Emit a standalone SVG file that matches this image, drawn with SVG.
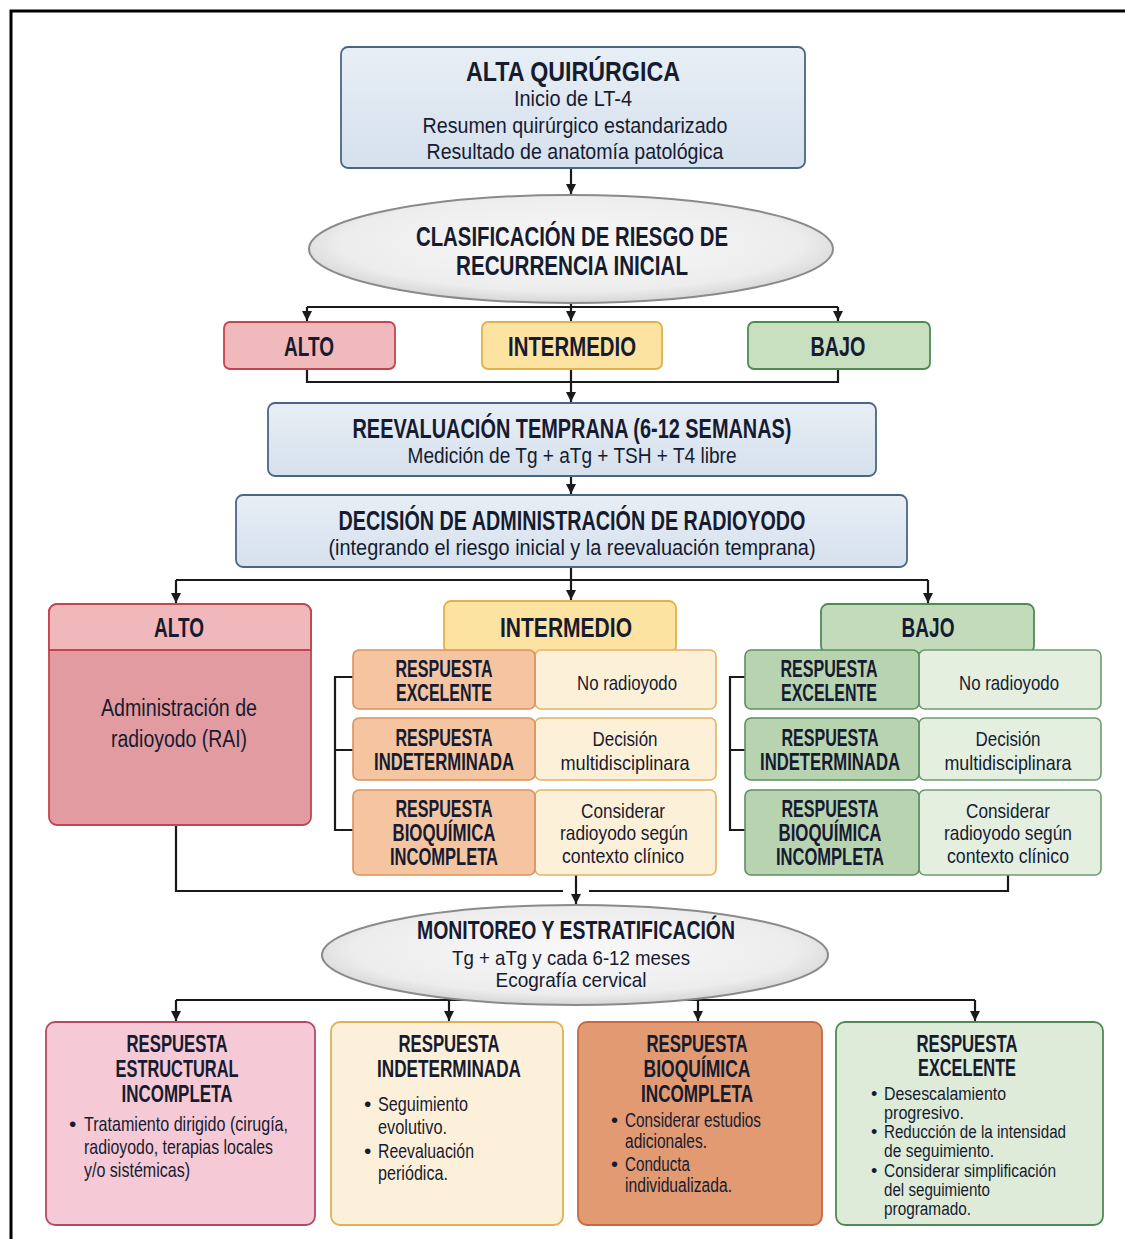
<svg xmlns="http://www.w3.org/2000/svg" width="1125" height="1239" viewBox="0 0 1125 1239">
<defs>
<style>
text{font-family:"Liberation Sans",Arial,sans-serif;fill:#161b30;text-anchor:middle}
.t{font-weight:bold}
.s28{font-size:28px}.s27{font-size:27px}.s25{font-size:25px}.s23{font-size:23px}.s22{font-size:22px}.s21{font-size:21px}.s20{font-size:20px}.s18{font-size:18px}
.l{text-anchor:start}
.c{fill:none;stroke:#1a1a1a;stroke-width:2.2}
.blue{fill:url(#gBlue);stroke:#4a6685;stroke-width:1.8}
.ell{fill:url(#gEll);stroke:#8a8a8a;stroke-width:2}
</style>
<linearGradient id="gBlue" x1="0" y1="0" x2="0" y2="1"><stop offset="0" stop-color="#e8eef5"/><stop offset="1" stop-color="#d5e1ed"/></linearGradient>
<radialGradient id="gEll" cx="0.5" cy="0.45" r="0.55"><stop offset="0" stop-color="#f8f8f8"/><stop offset="0.8" stop-color="#ededed"/><stop offset="1" stop-color="#d6d6d6"/></radialGradient>
<marker id="ah" markerUnits="userSpaceOnUse" markerWidth="11" markerHeight="11" refX="10" refY="5" orient="auto"><path d="M0,0 L10,5 L0,10 z" fill="#1a1a1a"/></marker>
</defs>
<rect width="1125" height="1239" fill="#ffffff"/>
<path d="M11 1239 V11 H1125" fill="none" stroke="#000" stroke-width="3"/>

<g id="connectors">
<path class="c" d="M571 168 V194" marker-end="url(#ah)"/>
<path class="c" d="M571 302 V307 M307 307 H838"/>
<path class="c" d="M307 307 V321" marker-end="url(#ah)"/>
<path class="c" d="M571 307 V321" marker-end="url(#ah)"/>
<path class="c" d="M838 307 V321" marker-end="url(#ah)"/>
<path class="c" d="M307 369 V382 H838 V369"/>
<path class="c" d="M571 369 V402" marker-end="url(#ah)"/>
<path class="c" d="M571 476 V494" marker-end="url(#ah)"/>
<path class="c" d="M571 567 V580 M176 580 H928"/>
<path class="c" d="M176 580 V603" marker-end="url(#ah)"/>
<path class="c" d="M571 580 V600" marker-end="url(#ah)"/>
<path class="c" d="M928 580 V603" marker-end="url(#ah)"/>
<path class="c" d="M353 677 H335 V830 H353 M335 750 H353"/>
<path class="c" d="M745 677 H730 V830 H745 M730 750 H745"/>
<path class="c" d="M176 825 V891 H563 M589 891 H1008 V875"/>
<path class="c" d="M576 875 V904" marker-end="url(#ah)"/>
<path class="c" d="M575 1000 V1005 M176 1000 H975"/>
<path class="c" d="M176 1000 V1021" marker-end="url(#ah)"/>
<path class="c" d="M449 1000 V1021" marker-end="url(#ah)"/>
<path class="c" d="M698 1000 V1021" marker-end="url(#ah)"/>
<path class="c" d="M975 1000 V1021" marker-end="url(#ah)"/>
</g>

<g id="alta-quirurgica">
<rect class="blue" x="341" y="47" width="464" height="121" rx="7"/>
<text class="t s28" x="573" y="81" textLength="214" lengthAdjust="spacingAndGlyphs">ALTA QUIRÚRGICA</text>
<text class="s22" x="573" y="106" textLength="118" lengthAdjust="spacingAndGlyphs">Inicio de LT-4</text>
<text class="s22" x="575" y="133" textLength="305" lengthAdjust="spacingAndGlyphs">Resumen quirúrgico estandarizado</text>
<text class="s22" x="575" y="159" textLength="297" lengthAdjust="spacingAndGlyphs">Resultado de anatomía patológica</text>
</g>

<g id="clasificacion">
<ellipse class="ell" cx="571" cy="249" rx="262" ry="54"/>
<text class="t s27" x="572" y="246" textLength="312" lengthAdjust="spacingAndGlyphs">CLASIFICACIÓN DE RIESGO DE</text>
<text class="t s27" x="572" y="275" textLength="232" lengthAdjust="spacingAndGlyphs">RECURRENCIA INICIAL</text>
</g>

<g id="riesgo-alto">
<rect x="224" y="322" width="171" height="47" rx="6" fill="#f0b9bb" stroke="#c2454f" stroke-width="1.8"/>
<text class="t s27" x="309" y="356" textLength="50" lengthAdjust="spacingAndGlyphs">ALTO</text>
</g>
<g id="riesgo-intermedio">
<rect x="482" y="322" width="180" height="47" rx="6" fill="#fde3a2" stroke="#e2b24a" stroke-width="1.8"/>
<text class="t s27" x="572" y="356" textLength="128" lengthAdjust="spacingAndGlyphs">INTERMEDIO</text>
</g>
<g id="riesgo-bajo">
<rect x="748" y="322" width="182" height="47" rx="6" fill="#c8dfc0" stroke="#4f8a55" stroke-width="1.8"/>
<text class="t s27" x="838" y="356" textLength="55" lengthAdjust="spacingAndGlyphs">BAJO</text>
</g>

<g id="reevaluacion">
<rect class="blue" x="268" y="403" width="608" height="73" rx="7"/>
<text class="t s27" x="572" y="438" textLength="439" lengthAdjust="spacingAndGlyphs">REEVALUACIÓN TEMPRANA (6-12 SEMANAS)</text>
<text class="s22" x="572" y="463" textLength="329" lengthAdjust="spacingAndGlyphs">Medición de Tg + aTg + TSH + T4 libre</text>
</g>

<g id="decision">
<rect class="blue" x="236" y="495" width="671" height="72" rx="7"/>
<text class="t s27" x="572" y="530" textLength="467" lengthAdjust="spacingAndGlyphs">DECISIÓN DE ADMINISTRACIÓN DE RADIOYODO</text>
<text class="s22" x="572" y="555" textLength="487" lengthAdjust="spacingAndGlyphs">(integrando el riesgo inicial y la reevaluación temprana)</text>
</g>

<g id="alto-rai">
<rect x="49" y="604" width="262" height="221" rx="8" fill="#e29ca1" stroke="#c2454f" stroke-width="1.8"/>
<path d="M57 604 H303 A8 8 0 0 1 311 612 V650 H49 V612 A8 8 0 0 1 57 604 Z" fill="#f0b8bb" stroke="#c2454f" stroke-width="1.8"/>
<text class="t s27" x="179" y="637" textLength="50" lengthAdjust="spacingAndGlyphs">ALTO</text>
<text class="s23" x="179" y="716" textLength="156" lengthAdjust="spacingAndGlyphs">Administración de</text>
<text class="s23" x="179" y="747" textLength="136" lengthAdjust="spacingAndGlyphs">radioyodo (RAI)</text>
</g>

<g id="intermedio">
<rect x="444" y="601" width="232" height="52" rx="7" fill="#fde3a2" stroke="#e2b24a" stroke-width="1.8"/>
<text class="t s27" x="566" y="637" textLength="132" lengthAdjust="spacingAndGlyphs">INTERMEDIO</text>
</g>
<g id="int-excelente">
<rect x="535" y="650" width="181" height="59" rx="6" fill="#fdf0d9" stroke="#e2b462" stroke-width="1.6"/>
<rect x="353" y="650" width="182" height="59" rx="6" fill="#f4c5a0" stroke="#da925b" stroke-width="1.6"/>
<text class="t s23" x="444" y="677" textLength="97" lengthAdjust="spacingAndGlyphs">RESPUESTA</text>
<text class="t s23" x="444" y="701" textLength="96" lengthAdjust="spacingAndGlyphs">EXCELENTE</text>
<text class="s21" x="627" y="690" textLength="100" lengthAdjust="spacingAndGlyphs">No radioyodo</text>
</g>
<g id="int-indeterminada">
<rect x="535" y="718" width="181" height="62" rx="6" fill="#fdf0d9" stroke="#e2b462" stroke-width="1.6"/>
<rect x="353" y="718" width="182" height="62" rx="6" fill="#f4c5a0" stroke="#da925b" stroke-width="1.6"/>
<text class="t s23" x="444" y="746" textLength="97" lengthAdjust="spacingAndGlyphs">RESPUESTA</text>
<text class="t s23" x="444" y="770" textLength="140" lengthAdjust="spacingAndGlyphs">INDETERMINADA</text>
<text class="s21" x="625" y="746" textLength="65" lengthAdjust="spacingAndGlyphs">Decisión</text>
<text class="s21" x="625" y="770" textLength="129" lengthAdjust="spacingAndGlyphs">multidisciplinara</text>
</g>
<g id="int-bioquimica">
<rect x="535" y="790" width="181" height="85" rx="6" fill="#fdf0d9" stroke="#e2b462" stroke-width="1.6"/>
<rect x="353" y="790" width="182" height="85" rx="6" fill="#f4c5a0" stroke="#da925b" stroke-width="1.6"/>
<text class="t s23" x="444" y="817" textLength="97" lengthAdjust="spacingAndGlyphs">RESPUESTA</text>
<text class="t s23" x="444" y="841" textLength="103" lengthAdjust="spacingAndGlyphs">BIOQUÍMICA</text>
<text class="t s23" x="444" y="865" textLength="108" lengthAdjust="spacingAndGlyphs">INCOMPLETA</text>
<text class="s21" x="623" y="818" textLength="84" lengthAdjust="spacingAndGlyphs">Considerar</text>
<text class="s21" x="624" y="840" textLength="128" lengthAdjust="spacingAndGlyphs">radioyodo según</text>
<text class="s21" x="623" y="863" textLength="122" lengthAdjust="spacingAndGlyphs">contexto clínico</text>
</g>

<g id="bajo">
<rect x="821" y="604" width="213" height="49" rx="7" fill="#c3dbbb" stroke="#4f8a55" stroke-width="1.8"/>
<text class="t s27" x="928" y="637" textLength="53" lengthAdjust="spacingAndGlyphs">BAJO</text>
</g>
<g id="bajo-excelente">
<rect x="919" y="650" width="182" height="59" rx="6" fill="#e4efe0" stroke="#6a9e6c" stroke-width="1.6"/>
<rect x="745" y="650" width="174" height="59" rx="6" fill="#b8d3b0" stroke="#5a9060" stroke-width="1.6"/>
<text class="t s23" x="829" y="677" textLength="97" lengthAdjust="spacingAndGlyphs">RESPUESTA</text>
<text class="t s23" x="829" y="701" textLength="96" lengthAdjust="spacingAndGlyphs">EXCELENTE</text>
<text class="s21" x="1009" y="690" textLength="100" lengthAdjust="spacingAndGlyphs">No radioyodo</text>
</g>
<g id="bajo-indeterminada">
<rect x="919" y="718" width="182" height="62" rx="6" fill="#e4efe0" stroke="#6a9e6c" stroke-width="1.6"/>
<rect x="745" y="718" width="174" height="62" rx="6" fill="#b8d3b0" stroke="#5a9060" stroke-width="1.6"/>
<text class="t s23" x="830" y="746" textLength="97" lengthAdjust="spacingAndGlyphs">RESPUESTA</text>
<text class="t s23" x="830" y="770" textLength="140" lengthAdjust="spacingAndGlyphs">INDETERMINADA</text>
<text class="s21" x="1008" y="746" textLength="65" lengthAdjust="spacingAndGlyphs">Decisión</text>
<text class="s21" x="1008" y="770" textLength="127" lengthAdjust="spacingAndGlyphs">multidisciplinara</text>
</g>
<g id="bajo-bioquimica">
<rect x="919" y="790" width="182" height="85" rx="6" fill="#e4efe0" stroke="#6a9e6c" stroke-width="1.6"/>
<rect x="745" y="790" width="174" height="85" rx="6" fill="#b8d3b0" stroke="#5a9060" stroke-width="1.6"/>
<text class="t s23" x="830" y="817" textLength="97" lengthAdjust="spacingAndGlyphs">RESPUESTA</text>
<text class="t s23" x="830" y="841" textLength="103" lengthAdjust="spacingAndGlyphs">BIOQUÍMICA</text>
<text class="t s23" x="830" y="865" textLength="108" lengthAdjust="spacingAndGlyphs">INCOMPLETA</text>
<text class="s21" x="1008" y="818" textLength="84" lengthAdjust="spacingAndGlyphs">Considerar</text>
<text class="s21" x="1008" y="840" textLength="128" lengthAdjust="spacingAndGlyphs">radioyodo según</text>
<text class="s21" x="1008" y="863" textLength="122" lengthAdjust="spacingAndGlyphs">contexto clínico</text>
</g>

<g id="monitoreo">
<ellipse class="ell" cx="575" cy="955" rx="253" ry="50"/>
<text class="t s25" x="576" y="939" textLength="318" lengthAdjust="spacingAndGlyphs">MONITOREO Y ESTRATIFICACIÓN</text>
<text class="s21" x="571" y="965" textLength="238" lengthAdjust="spacingAndGlyphs">Tg + aTg y cada 6-12 meses</text>
<text class="s21" x="571" y="987" textLength="151" lengthAdjust="spacingAndGlyphs">Ecografía cervical</text>
</g>

<g id="resp-estructural">
<rect x="46" y="1022" width="269" height="203" rx="9" fill="#f5c9d5" stroke="#b24c64" stroke-width="1.8"/>
<text class="t s23" x="177" y="1052" textLength="101" lengthAdjust="spacingAndGlyphs">RESPUESTA</text>
<text class="t s23" x="177" y="1077" textLength="123" lengthAdjust="spacingAndGlyphs">ESTRUCTURAL</text>
<text class="t s23" x="177" y="1102" textLength="111" lengthAdjust="spacingAndGlyphs">INCOMPLETA</text>
<text class="s21 l" x="69" y="1131">•</text>
<text class="s21 l" x="84" y="1131" textLength="204" lengthAdjust="spacingAndGlyphs">Tratamiento dirigido (cirugía,</text>
<text class="s21 l" x="84" y="1154" textLength="189" lengthAdjust="spacingAndGlyphs">radioyodo, terapias locales</text>
<text class="s21 l" x="84" y="1177" textLength="106" lengthAdjust="spacingAndGlyphs">y/o sistémicas)</text>
</g>

<g id="resp-indeterminada">
<rect x="331" y="1022" width="232" height="203" rx="9" fill="#fdf0da" stroke="#e0b152" stroke-width="1.8"/>
<text class="t s23" x="449" y="1052" textLength="101" lengthAdjust="spacingAndGlyphs">RESPUESTA</text>
<text class="t s23" x="449" y="1077" textLength="144" lengthAdjust="spacingAndGlyphs">INDETERMINADA</text>
<text class="s21 l" x="364" y="1111">•</text>
<text class="s21 l" x="378" y="1111" textLength="90" lengthAdjust="spacingAndGlyphs">Seguimiento</text>
<text class="s21 l" x="378" y="1134" textLength="69" lengthAdjust="spacingAndGlyphs">evolutivo.</text>
<text class="s21 l" x="364" y="1158">•</text>
<text class="s21 l" x="378" y="1158" textLength="96" lengthAdjust="spacingAndGlyphs">Reevaluación</text>
<text class="s21 l" x="378" y="1180" textLength="70" lengthAdjust="spacingAndGlyphs">periódica.</text>
</g>

<g id="resp-bioquimica">
<rect x="578" y="1022" width="244" height="203" rx="9" fill="#e19a72" stroke="#c56a42" stroke-width="1.8"/>
<text class="t s23" x="697" y="1052" textLength="101" lengthAdjust="spacingAndGlyphs">RESPUESTA</text>
<text class="t s23" x="697" y="1077" textLength="107" lengthAdjust="spacingAndGlyphs">BIOQUÍMICA</text>
<text class="t s23" x="697" y="1102" textLength="112" lengthAdjust="spacingAndGlyphs">INCOMPLETA</text>
<text class="s20 l" x="611" y="1127">•</text>
<text class="s20 l" x="625" y="1127" textLength="136" lengthAdjust="spacingAndGlyphs">Considerar estudios</text>
<text class="s20 l" x="625" y="1148" textLength="82" lengthAdjust="spacingAndGlyphs">adicionales.</text>
<text class="s20 l" x="611" y="1171">•</text>
<text class="s20 l" x="625" y="1171" textLength="65" lengthAdjust="spacingAndGlyphs">Conducta</text>
<text class="s20 l" x="625" y="1192" textLength="107" lengthAdjust="spacingAndGlyphs">individualizada.</text>
</g>

<g id="resp-excelente">
<rect x="836" y="1022" width="267" height="203" rx="9" fill="#deebd8" stroke="#4f8a55" stroke-width="1.8"/>
<text class="t s23" x="967" y="1052" textLength="101" lengthAdjust="spacingAndGlyphs">RESPUESTA</text>
<text class="t s23" x="967" y="1076" textLength="98" lengthAdjust="spacingAndGlyphs">EXCELENTE</text>
<text class="s18 l" x="871" y="1100">•</text>
<text class="s18 l" x="884" y="1100" textLength="122" lengthAdjust="spacingAndGlyphs">Desescalamiento</text>
<text class="s18 l" x="884" y="1119" textLength="80" lengthAdjust="spacingAndGlyphs">progresivo.</text>
<text class="s18 l" x="871" y="1138">•</text>
<text class="s18 l" x="884" y="1138" textLength="182" lengthAdjust="spacingAndGlyphs">Reducción de la intensidad</text>
<text class="s18 l" x="884" y="1157" textLength="110" lengthAdjust="spacingAndGlyphs">de seguimiento.</text>
<text class="s18 l" x="871" y="1177">•</text>
<text class="s18 l" x="884" y="1177" textLength="172" lengthAdjust="spacingAndGlyphs">Considerar simplificación</text>
<text class="s18 l" x="884" y="1196" textLength="106" lengthAdjust="spacingAndGlyphs">del seguimiento</text>
<text class="s18 l" x="884" y="1215" textLength="87" lengthAdjust="spacingAndGlyphs">programado.</text>
</g>
</svg>
